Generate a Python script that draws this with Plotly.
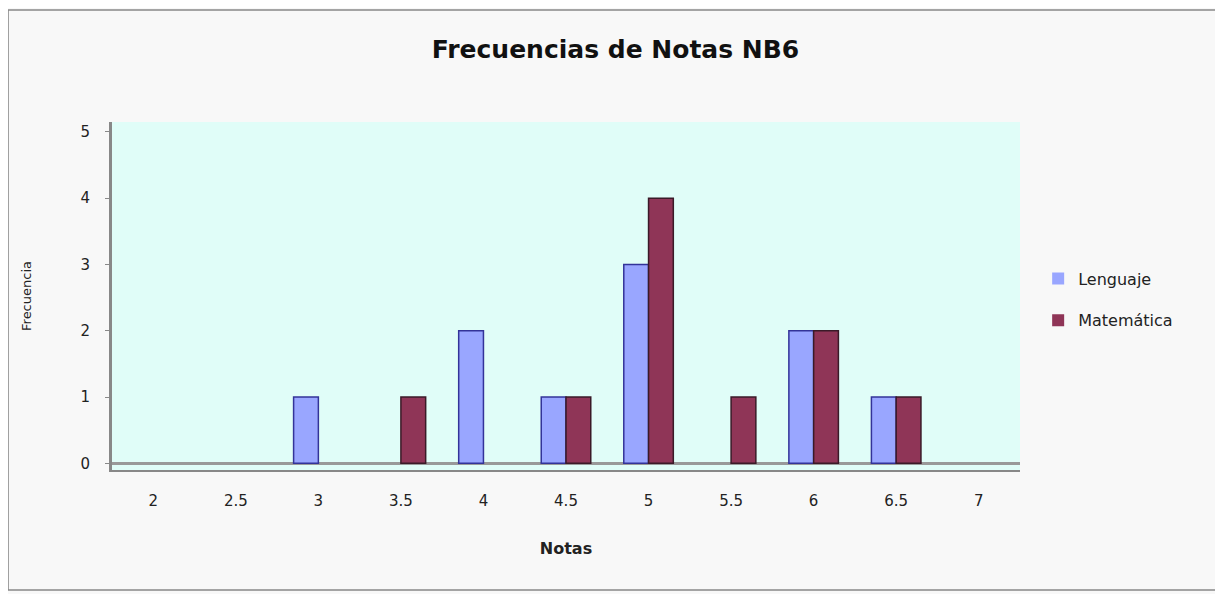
import plotly.graph_objects as go

categorias = ["2", "2.5", "3", "3.5", "4", "4.5", "5", "5.5", "6", "6.5", "7"]
lenguaje = [0, 0, 1, 0, 2, 1, 3, 0, 2, 1, 0]
matematica = [0, 0, 0, 1, 0, 1, 4, 1, 2, 1, 0]
y_ticks = [0, 1, 2, 3, 4, 5]

fig = go.Figure()
fig.add_trace(go.Bar(x=categorias, y=lenguaje, name="Lenguaje", legendgroup="a",
                     marker=dict(color="#99a6ff",
                                 line=dict(color="#333399",
                                           width=[1.5 if v else 0 for v in lenguaje]))))
fig.add_trace(go.Bar(x=categorias, y=matematica, name="Matemática", legendgroup="b",
                     marker=dict(color="#8f3557",
                                 line=dict(color="#3a1a28",
                                           width=[1.5 if v else 0 for v in matematica]))))

fig.update_layout(
    width=1215, height=586,
    margin=dict(l=104, r=203, t=114, b=124),
    paper_bgcolor="#f8f8f8",
    plot_bgcolor="#e0fdf8",
    barmode="group", bargap=0.4, bargroupgap=0,
    font=dict(family="DejaVu Sans, sans-serif", size=14, color="#222"),
    title=dict(text="<b>Frecuencias de Notas NB6</b>", x=0.5, xanchor="center",
               xref="container", y=0.93, yanchor="middle", font=dict(size=25, color="#111")),
    legend=dict(x=1.02, y=0.49, xanchor="left", yanchor="middle",
                bgcolor="rgba(0,0,0,0)", font=dict(size=16), tracegroupgap=18,
                itemwidth=30),
    showlegend=True,
    xaxis=dict(title=dict(text="<b>Notas</b>", font=dict(size=16), standoff=34),
               showgrid=False, showline=True, linecolor="#888", linewidth=2,
               ticks="", tickfont=dict(size=15), ticklabelstandoff=16),
    yaxis=dict(title=dict(text="Frecuencia", font=dict(size=13), standoff=46),
               range=[-0.1, 5.15], tickvals=y_ticks, showgrid=False,
               showline=True, linecolor="#888", linewidth=3, ticks="outside",
               ticklen=4, tickcolor="#888", tickfont=dict(size=15), ticklabelstandoff=12,
               zeroline=True, zerolinecolor="#999", zerolinewidth=3),
)
fig.add_shape(type="rect", xref="paper", yref="paper",
              x0=-0.1145, x1=1.22, y0=-0.345, y1=1.322,
              line=dict(color="#888", width=1.5), fillcolor="rgba(0,0,0,0)", layer="below")

fig.write_html("out.html")
